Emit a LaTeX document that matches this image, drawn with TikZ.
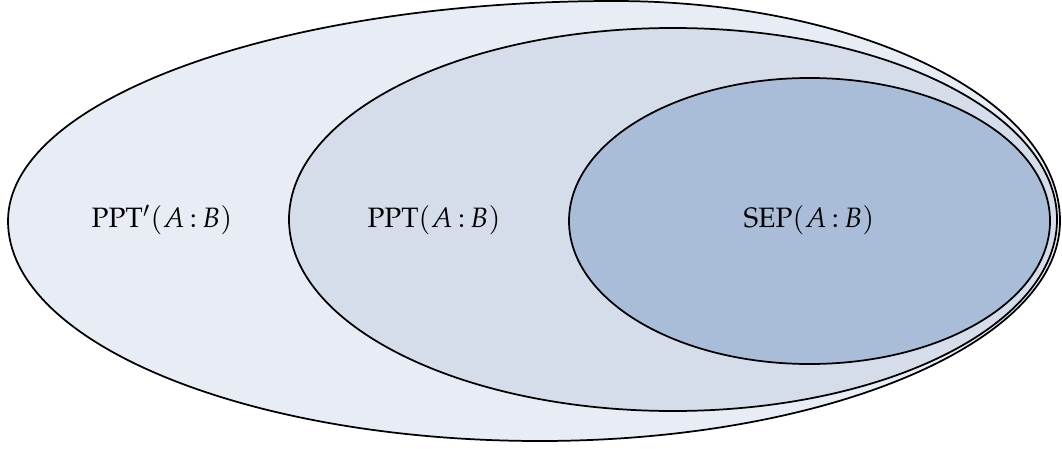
\documentclass[tikz,border=0pt]{standalone}
\usepackage[T1]{fontenc}
\usepackage{mathpazo}
\usepackage{xcolor}
\usepackage{amsmath,amssymb}
\usepackage{tikz}
\definecolor{setlight}{HTML}{E8EDF5}
\definecolor{setmid}{HTML}{D5DDEA}
\definecolor{setdark}{HTML}{AABDD8}
\tikzstyle{set_o} = [draw=black, fill=setlight, line width=0.8pt]
\tikzstyle{set_m} = [draw=black, fill=setmid, line width=0.8pt]
\tikzstyle{set_i} = [draw=black, fill=setdark, line width=0.8pt]
\tikzstyle{set_lbl} = [align=center, inner sep=0pt, font=\fontsize{12.9}{15}\selectfont]
\begin{document}
\begin{tikzpicture}[x=0.46pt,y=-0.46pt]
\useasboundingbox (0,0) rectangle (1062,449);
% outer set, a bit fuller at the top right
\draw [set_o] (8,221) arc [start angle=180, end angle=270, x radius=606, y radius=220]
	arc [start angle=270, end angle=360, x radius=446, y radius=220]
	arc [start angle=0, end angle=90, x radius=520, y radius=220]
	arc [start angle=90, end angle=180, x radius=532, y radius=220] -- cycle;
\draw [set_m] (673,219.5) ellipse [x radius=384, y radius=191.5];
\draw [set_i] (809.5,221) ellipse [x radius=240.5, y radius=143];
\node [set_lbl] (lbl_pptp) at (162,220) {PPT$'(A\,{:}\,B)$};
\node [set_lbl] (lbl_ppt) at (434,220) {PPT$(A\,{:}\,B)$};
\node [set_lbl] (lbl_sep) at (809,220) {SEP$(A\,{:}\,B)$};
\end{tikzpicture}
\end{document}
